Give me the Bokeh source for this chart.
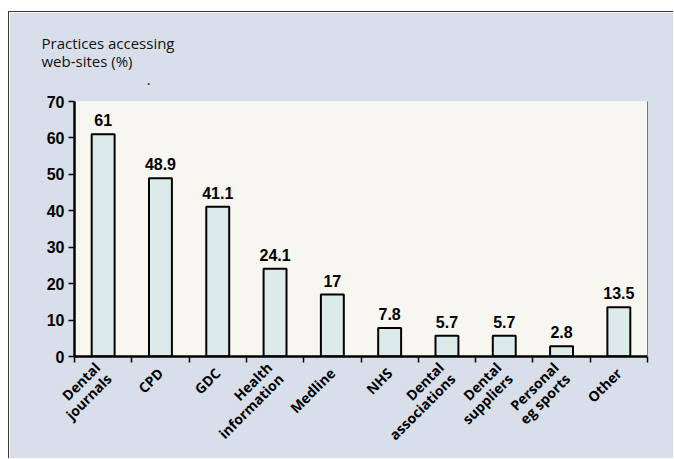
import math
from bokeh.plotting import figure
from bokeh.models import (ColumnDataSource, FixedTicker, LinearAxis, Range1d)
from bokeh.core.properties import value
from bokeh.embed import file_html
from bokeh.resources import INLINE

# ---- data ----
categories = ["Dental\njournals", "CPD", "GDC", "Health\ninformation", "Medline",
              "NHS", "Dental\nassociations", "Dental\nsuppliers", "Personal\neg sports", "Other"]
values = [61, 48.9, 41.1, 24.1, 17, 7.8, 5.7, 5.7, 2.8, 13.5]
value_labels = ["61", "48.9", "41.1", "24.1", "17", "7.8", "5.7", "5.7", "2.8", "13.5"]
y_ticks = [0, 10, 20, 30, 40, 50, 60, 70]
# third line reproduces the small stray dot under the title in the original
title_text = "Practices accessing\nweb-sites (%)\n" + "\u00a0" * 27 + "."

PANEL = "#d8dfea"
PLOT_BG = "#f8f6f0"
BAR = "#dcebea"

xs = [i + 0.5 for i in range(len(categories))]
src = ColumnDataSource(dict(x=xs, top=values, lab=value_labels))

p = figure(width=665, height=447, output_backend="svg", toolbar_location=None,
           x_range=Range1d(0, len(categories)), y_range=Range1d(0, 70),
           min_border_left=65, min_border_right=27, min_border_top=89, min_border_bottom=102,
           background_fill_color=PLOT_BG, border_fill_color=PANEL)
p.styles = {"margin-left": "8px", "margin-top": "11px",
            "border-left": "1px solid #3a3a3a", "border-top": "1px solid #3a3a3a"}
p.outline_line_color = None
p.xgrid.visible = False
p.ygrid.visible = False

p.title.text = title_text
p.title.align = "left"
p.title.offset = -33
p.title.text_font = "Open Sans"
p.title.text_font_style = "normal"
p.title.text_font_size = "15px"
p.title.text_color = "#111111"
p.title.text_line_height = 0.9
p.title.standoff = 26

p.vbar(x="x", top="top", width=0.4, bottom=0, source=src,
       fill_color=BAR, line_color="black", line_width=2)
p.text(x="x", y="top", text="lab", source=src, text_align="center",
       text_baseline="bottom", y_offset=-8, text_font=value("Liberation Sans"),
       text_font_style="bold", text_font_size="16px", text_color="black")

# y axis
ya = p.yaxis[0]
ya.ticker = FixedTicker(ticks=y_ticks, minor_ticks=[])
ya.axis_line_width = 2.5
ya.axis_line_color = "black"
ya.major_tick_line_width = 1.5
ya.major_tick_out = 6
ya.major_tick_in = 0
ya.minor_tick_line_color = None
ya.major_label_text_font = "Liberation Sans"
ya.major_label_text_font_style = "bold"
ya.major_label_text_font_size = "16px"
ya.major_label_text_color = "black"
ya.major_label_standoff = 4

# x axis
xa = p.xaxis[0]
xa.ticker = FixedTicker(ticks=xs, minor_ticks=list(range(len(categories) + 1)))
xa.major_label_overrides = {x: c for x, c in zip(xs, categories)}
xa.axis_line_width = 2.5
xa.axis_line_color = "black"
xa.major_tick_line_color = None
xa.minor_tick_line_color = "black"
xa.minor_tick_line_width = 1.5
xa.minor_tick_out = 6
xa.minor_tick_in = 0
xa.major_label_orientation = math.pi / 4
xa.major_label_text_font = "Open Sans"
xa.major_label_text_font_style = "bold"
xa.major_label_text_font_size = "14px"
xa.major_label_text_color = "black"
xa.major_label_text_line_height = 0.85
xa.major_label_standoff = 8

# thin right edge line
ra = LinearAxis(ticker=FixedTicker(ticks=[]), axis_line_color="#777777", axis_line_width=1,
                major_tick_line_color=None, minor_tick_line_color=None,
                major_label_text_font_size="0px")
p.add_layout(ra, "right")

open("out.html", "w").write(file_html(p, INLINE))
